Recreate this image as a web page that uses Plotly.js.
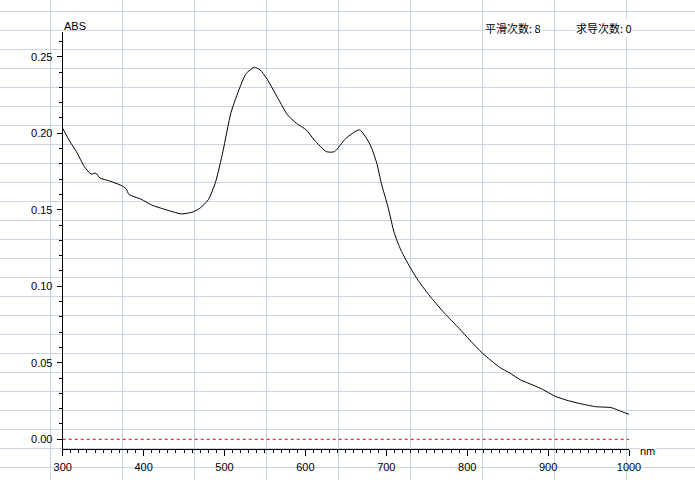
<!DOCTYPE html>
<html>
<head>
<meta charset="utf-8">
<script src="https://cdn.plot.ly/plotly-3.0.1.min.js"></script>
<style>
  html, body { margin: 0; padding: 0; background: #fff; }
  #chart { width: 695px; height: 480px; }
</style>
</head>
<body>
<div id="chart"></div>
<script>
// spectrum (wavelength in nm, absorbance)
const wavelength = [300, 309, 317, 327, 335, 341, 346, 358, 371, 378, 382, 397, 410, 426, 447, 461, 470, 480, 489, 498,
  508, 519, 527, 537, 544, 552, 566, 578, 589, 601, 611, 626, 636, 650, 667, 680, 688, 694, 702, 710,
  718, 729, 739, 756, 772, 790, 803, 819, 840, 852, 866, 881, 893, 908, 922, 938, 959, 978, 988, 1000];
const absorbance = [0.2033, 0.1945, 0.188, 0.178, 0.1734, 0.1739, 0.1708, 0.1688, 0.1662, 0.164, 0.160, 0.1569, 0.1531, 0.1503, 0.1473, 0.1486, 0.1512, 0.1566, 0.1682, 0.188,
  0.2135, 0.230, 0.2392, 0.2431, 0.2414, 0.236, 0.2229, 0.212, 0.2065, 0.2022, 0.1956, 0.188, 0.188, 0.1967, 0.2022, 0.1926, 0.1808, 0.167, 0.152, 0.1346,
  0.1237, 0.1128, 0.1041, 0.0922, 0.0824, 0.0725, 0.0649, 0.0562, 0.0471, 0.0435, 0.0388, 0.0355, 0.0327, 0.0283, 0.0257, 0.0235, 0.0213, 0.0207, 0.0187, 0.0163];

const yLabel = "ABS";
const xLabel = "nm";
const smoothLabel = "平滑次数: 8";
const derivLabel = "求导次数: 0";

const font = { family: "Liberation Sans, Arial, sans-serif", size: 11, color: "#000" };
const cjkFont = { family: "Noto Sans CJK SC, sans-serif", size: 11, color: "#000" };

// the page behind the chart is squared paper: a full-size x/y pair only for its grid
const W = 695, H = 480;

Plotly.newPlot("chart", [
  {
    // empty trace so the grid-paper subplot gets drawn (first, i.e. underneath)
    x: [], y: [], xaxis: "x", yaxis: "y", type: "scatter", mode: "lines", hoverinfo: "skip"
  },
  {
    x: wavelength,
    y: absorbance,
    xaxis: "x2",
    yaxis: "y2",
    type: "scatter",
    mode: "lines",
    line: { color: "#000", width: 1, shape: "spline", smoothing: 0.6 },
    hoverinfo: "x+y"
  }
], {
  width: W,
  height: H,
  margin: { t: 0, b: 0, l: 0, r: 0 },
  paper_bgcolor: "#fff",
  plot_bgcolor: "rgba(0,0,0,0)",
  font: font,
  showlegend: false,
  // background grid
  xaxis: {
    domain: [0, 1], range: [0, W], anchor: "y",
    tick0: 50, dtick: 72, showgrid: true, gridcolor: "#cbd4e3", gridwidth: 1,
    showticklabels: false, zeroline: false, showline: false, ticks: "", fixedrange: true
  },
  yaxis: {
    domain: [0, 1], range: [H, 0], anchor: "x",
    tick0: 11, dtick: 19, showgrid: true, gridcolor: "#cbd4e3", gridwidth: 1,
    showticklabels: false, zeroline: false, showline: false, ticks: "", fixedrange: true
  },
  // the spectrum axes
  xaxis2: {
    domain: [62.7 / W, 629 / W], range: [300, 1000], anchor: "y2",
    tick0: 300, dtick: 100, ticks: "outside", ticklen: 6, tickwidth: 1, tickcolor: "#000",
    minor: { dtick: 10, ticks: "outside", ticklen: 3, tickcolor: "#000" },
    showline: true, linecolor: "#000", linewidth: 1,
    showgrid: false, zeroline: false, automargin: false,
    tickfont: font, ticklabelstandoff: 1
  },
  yaxis2: {
    domain: [1 - 449.3 / H, 1 - 32 / H], range: [-0.00654, 0.2662], anchor: "x2",
    tick0: 0, dtick: 0.05, tickformat: ".2f",
    ticks: "outside", ticklen: 5, tickwidth: 1, tickcolor: "#000",
    minor: { dtick: 0.01, ticks: "outside", ticklen: 3, tickcolor: "#000" },
    showline: true, linecolor: "#000", linewidth: 1,
    showgrid: false, zeroline: false, automargin: false,
    tickfont: font, ticklabelstandoff: 2
  },
  shapes: [{
    type: "line", xref: "x2 domain", yref: "y2",
    x0: 0, x1: 1, y0: 0, y1: 0,
    line: { color: "#e00000", width: 1, dash: "3px,3px" }
  }],
  annotations: [
    { text: yLabel, xref: "x2 domain", yref: "y2 domain", x: 0, y: 1, xanchor: "left", yanchor: "bottom",
      showarrow: false, font: font, borderpad: 0, yshift: -1 },
    { text: xLabel, xref: "x2 domain", yref: "y2 domain", x: 1, y: 0, xanchor: "left", yanchor: "middle",
      showarrow: false, font: font, xshift: 10, yshift: -2, bgcolor: "#fff", borderpad: 0 },
    { text: smoothLabel, xref: "paper", yref: "paper", x: 484 / W, y: 1 - 28 / H, xanchor: "left", yanchor: "middle",
      showarrow: false, font: cjkFont, bgcolor: "#fff", borderpad: 0 },
    { text: derivLabel, xref: "paper", yref: "paper", x: 575 / W, y: 1 - 28 / H, xanchor: "left", yanchor: "middle",
      showarrow: false, font: cjkFont, bgcolor: "#fff", borderpad: 0 }
  ]
}, { displayModeBar: false, staticPlot: true });
</script>
</body>
</html>
